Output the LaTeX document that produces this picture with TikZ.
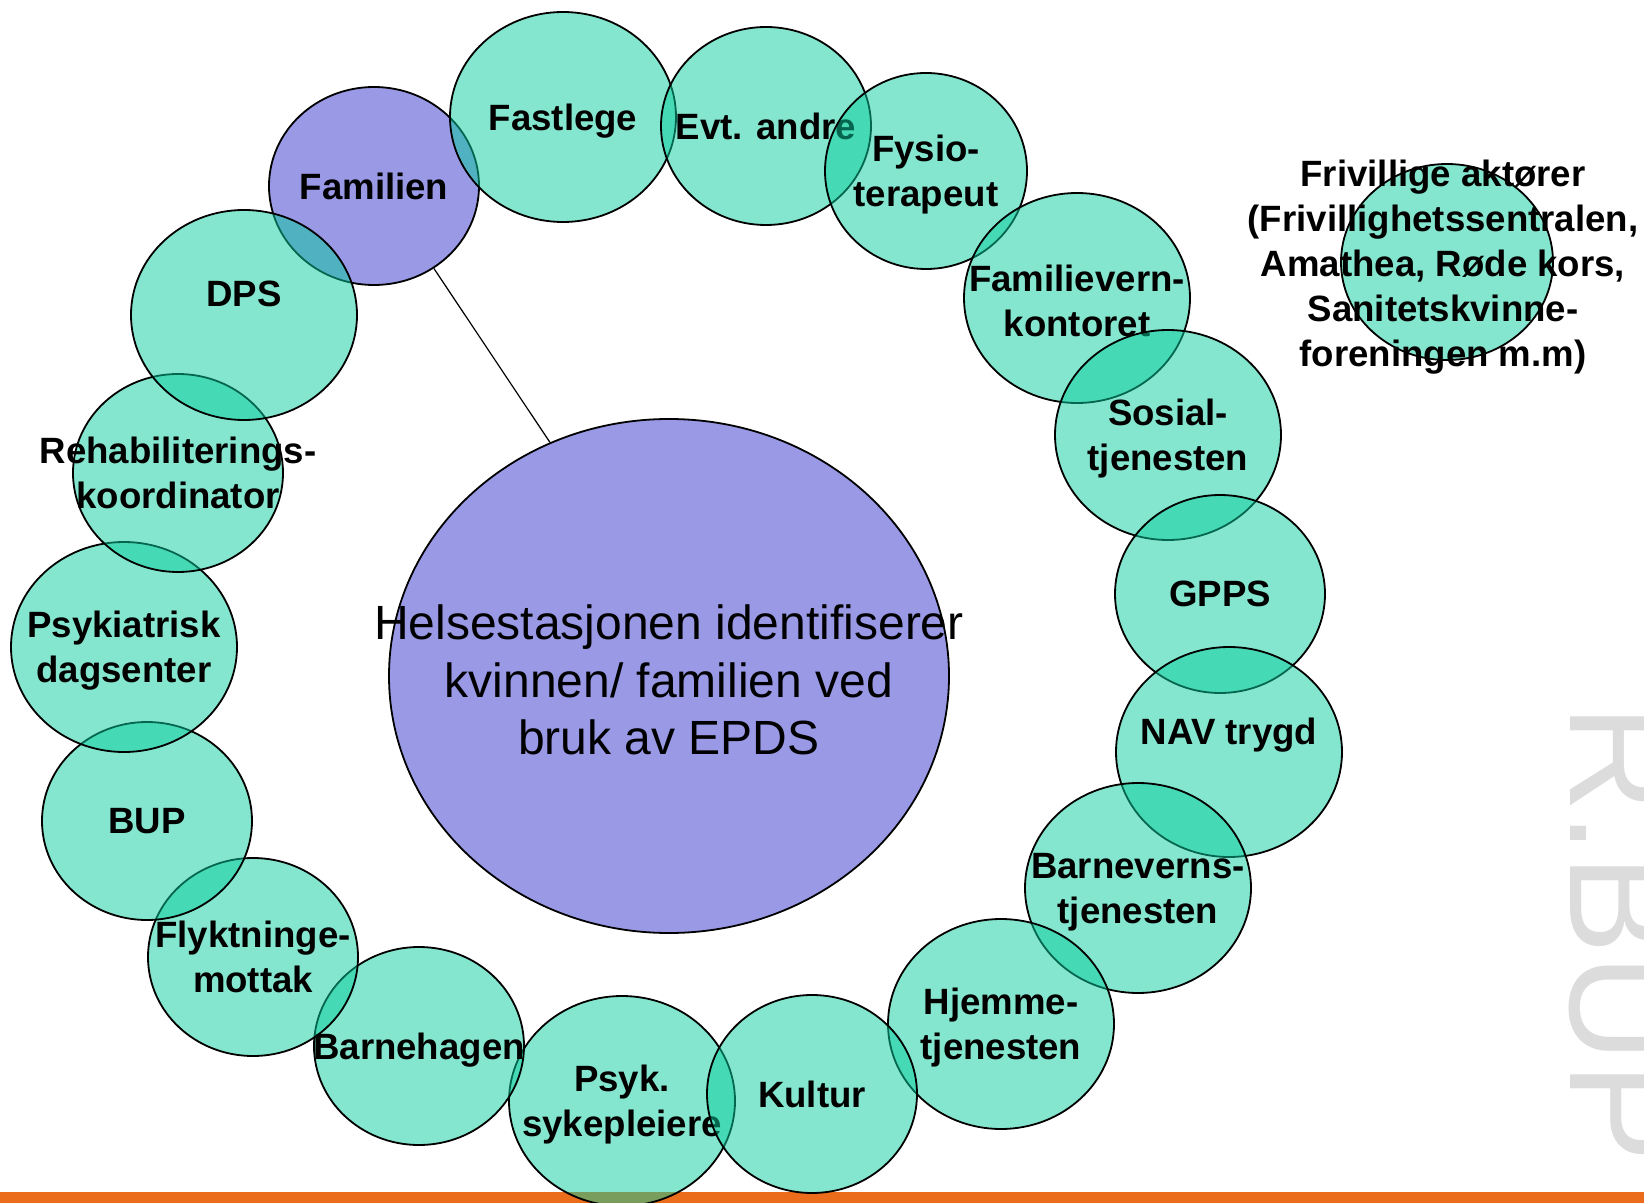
\documentclass[tikz,border=0pt]{standalone}
\usepackage{fontspec}
\setmainfont{Liberation Sans}
\usetikzlibrary{shapes.geometric}
\definecolor{discTeal}{HTML}{09CD9D}
\definecolor{discPurple}{HTML}{3333CD}
\definecolor{barOrange}{HTML}{EB6D1B}
\definecolor{markGrey}{HTML}{DCDCDC}

\begin{document}
\begin{tikzpicture}[x=0.5pt, y=-0.5pt,
		disc/.style={ellipse, draw=black, line width=0.9pt, fill=discTeal, fill opacity=0.5, inner sep=0pt},
		famdisc/.style={disc, fill=discPurple},
		lbl/.style={font=\bfseries\fontsize{18.3}{22.5}\selectfont, align=center, inner sep=0pt, text depth=0pt},
		link/.style={draw=black, line width=0.6pt}]
		\useasboundingbox (0,0) rectangle (1644,1203);
		% bottom bar and side mark
		\fill[barOrange] (0,1192) rectangle (1644,1203);
		\node[text=markGrey, font=\fontsize{75}{75}\selectfont, rotate=-90, anchor=base west, inner sep=0pt] (mark) at (1570,704) {R.BUP};
		% family and health station
		\node[famdisc, minimum width=105pt, minimum height=99pt] (familien) at (374,186) {};
		\node[lbl] (familien-txt) at (familien) {Familien};
		\node[famdisc, minimum width=280pt, minimum height=257pt] (helse) at (669,676) {};
		\node[align=center, inner sep=0pt, font=\fontsize{24}{28.9}\selectfont] (helse-txt) at ([yshift=-2pt]helse.center) {Helsestasjonen identifiserer\\kvinnen/ familien ved\\bruk av EPDS};
		\draw[link] (familien.-54) -- (helse.117);
		% ring of services
		\foreach \cx/\cy/\w/\h/\id/\txt/\dy in {
			563/117/113/105/fastlege/{Fastlege}/0,
			766/126/105/99/andre/{Evt. andre}/0,
			926/171/101/98/fysio/{Fysio-\\terapeut}/0,
			1077/298/113/105/famvern/{Familievern-\\kontoret}/-1.5,
			1168/435/113/105/sosial/{Sosial-\\tjenesten}/0,
			1220/594/105/99/gpps/{GPPS}/0,
			1229/752/113/105/nav/{NAV trygd}/10.5,
			1138/888/113/105/barnevern/{Barneverns-\\tjenesten}/0,
			1001/1024/113/105/hjemme/{Hjemme-\\tjenesten}/0,
			622/1101/113/105/psyk/{Psyk.\\sykepleiere}/0,
			812/1094/105/99/kultur/{Kultur}/0,
			419/1046/105/99/barnehage/{Barnehagen}/0,
			253/957/105/99/flykt/{Flyktninge-\\mottak}/0,
			147/821/105/99/bup/{BUP}/0,
			124/647/113/105/dagsenter/{Psykiatrisk\\dagsenter}/0,
			178/473/105/99/rehab/{Rehabiliterings-\\koordinator}/0,
			244/315/113/105/dps/{DPS}/10.5
		}{
			\node[disc, minimum width=\w pt, minimum height=\h pt] (\id) at (\cx,\cy) {};
			\node[lbl] (\id-txt) at ([yshift=\dy pt]\id.center) {\txt};
		}
		% volunteers
		\node[disc, minimum width=106pt, minimum height=98pt] (friv) at (1447,262) {};
		\node[lbl] (friv-txt) at (1443,263) {Frivillige aktører\\(Frivillighetssentralen,\\Amathea, Røde kors,\\Sanitetskvinne-\\foreningen m.m)};
	\end{tikzpicture}
\end{document}
